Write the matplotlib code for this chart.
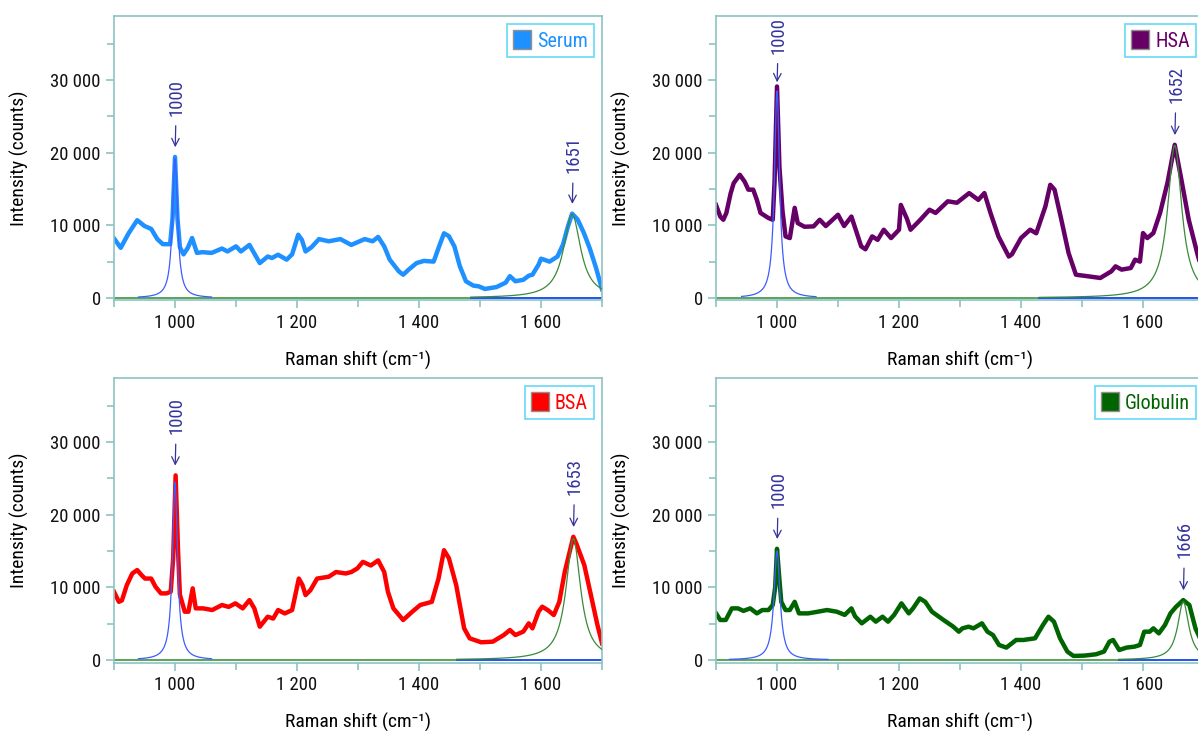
import numpy as np
import matplotlib
matplotlib.use("Agg")
import matplotlib.pyplot as plt
from matplotlib import font_manager
from matplotlib.patches import Patch
from matplotlib.ticker import FuncFormatter, MultipleLocator

names = {f.name for f in font_manager.fontManager.ttflist}
narrow = [n for n in ('Liberation Sans Narrow', 'Arial Narrow', 'Roboto Condensed',
                      'Archivo Narrow', 'Liberation Sans') if n in names]
plt.rcParams['font.family'] = [narrow[0], 'DejaVu Sans']

# measured spectra (Raman shift in cm-1, intensity in counts)
serum_x = [900, 911, 924, 938, 950, 961, 971, 980, 992, 996, 1000, 1004, 1008, 1014, 1021,
           1028, 1036, 1045, 1060, 1077, 1086, 1100, 1108, 1122, 1139, 1152, 1159, 1169,
           1183, 1192, 1202, 1208, 1214, 1224, 1236, 1252, 1271, 1289, 1311, 1324, 1333,
           1343, 1352, 1367, 1374, 1383, 1396, 1408, 1424, 1433, 1441, 1449, 1458, 1467,
           1477, 1489, 1498, 1508, 1527, 1542, 1549, 1558, 1571, 1580, 1586, 1596, 1600,
           1605, 1614, 1627, 1636, 1644, 1651, 1660, 1670, 1680, 1690, 1700]
serum_y = [8200, 6900, 8900, 10700, 9900, 9500, 8100, 7400, 7400, 11000, 19400, 11000, 7000,
           6000, 6900, 8250, 6200, 6300, 6200, 6800, 6400, 7100, 6400, 7300, 4800, 5700,
           5500, 5950, 5270, 6000, 8700, 8000, 6400, 7000, 8100, 7800, 8100, 7300, 8100,
           7800, 8400, 7100, 5270, 3660, 3200, 3900, 4800, 5100, 5000, 7100, 8900, 8500,
           7100, 4350, 2290, 1700, 1600, 1240, 1500, 2100, 3000, 2300, 2500, 3070, 3200,
           4580, 5400, 5270, 5000, 5700, 7330, 9800, 11600, 10800, 9000, 6800, 4200, 1200]

hsa_x = [900, 907, 912, 917, 924, 929, 939, 947, 953, 961, 967, 973, 986, 993, 996, 1000,
         1004, 1009, 1014, 1021, 1029, 1034, 1045, 1060, 1070, 1080, 1100, 1110, 1122,
         1138, 1145, 1156, 1165, 1175, 1187, 1200, 1203, 1213, 1219, 1235, 1250, 1260,
         1280, 1295, 1315, 1330, 1340, 1350, 1363, 1380, 1385, 1400, 1415, 1425, 1440,
         1448, 1455, 1465, 1478, 1490, 1510, 1530, 1548, 1555, 1565, 1580, 1587, 1595,
         1600, 1607, 1617, 1628, 1640, 1652, 1662, 1675, 1690, 1700]
hsa_y = [12800, 11200, 10760, 11700, 14400, 15800, 16950, 16000, 14900, 14900, 13500,
         11700, 11000, 10760, 16000, 29100, 18000, 12000, 8470, 8240, 12400, 10300, 9800,
         9850, 10760, 9900, 11450, 9900, 11200, 7100, 6700, 8470, 8000, 9390, 8240, 9390,
         12800, 10900, 9390, 10760, 12140, 11700, 13300, 13100, 14430, 13500, 14430, 11700,
         8470, 5700, 6000, 8240, 9390, 8900, 12600, 15570, 14900, 11200, 6180, 3200, 2980,
         2750, 3660, 4350, 3900, 4120, 5270, 5000, 8930, 8240, 8930, 11700, 15800, 21070,
         16700, 10760, 5800, 3000]

bsa_x = [900, 908, 913, 921, 930, 938, 946, 951, 961, 968, 977, 986, 993, 997, 1001, 1005,
         1008, 1016, 1022, 1029, 1034, 1046, 1061, 1077, 1088, 1099, 1111, 1122, 1130,
         1139, 1152, 1161, 1169, 1180, 1192, 1203, 1209, 1214, 1222, 1233, 1252, 1264,
         1280, 1289, 1299, 1308, 1321, 1333, 1343, 1349, 1358, 1374, 1389, 1402, 1421,
         1432, 1441, 1449, 1461, 1468, 1474, 1483, 1502, 1521, 1539, 1549, 1558, 1571,
         1580, 1586, 1596, 1602, 1611, 1621, 1630, 1639, 1653, 1658, 1671, 1683, 1692, 1700]
bsa_y = [9390, 8000, 8200, 10300, 11900, 12370, 11600, 11200, 11200, 10080, 9160, 9160,
         9390, 14000, 25400, 15000, 9000, 6640, 6640, 9850, 7100, 7100, 6870, 7560, 7300,
         7790, 7100, 8240, 7100, 4580, 5950, 5700, 6870, 6400, 6870, 11200, 10300, 8930,
         9600, 11200, 11450, 12100, 11900, 12100, 12600, 13500, 13000, 13700, 12100, 9390,
         7100, 5500, 6640, 7560, 8000, 11200, 15100, 14000, 10300, 7100, 4350, 2980, 2430,
         2520, 3430, 4120, 3430, 3900, 5040, 4350, 6640, 7330, 6870, 6180, 8000, 12140,
         16950, 16000, 13050, 8470, 5000, 2300]

glob_x = [900, 907, 916, 926, 936, 945, 956, 967, 976, 986, 993, 997, 1000, 1004, 1007,
          1014, 1021, 1029, 1036, 1051, 1067, 1082, 1098, 1111, 1122, 1128, 1139, 1153,
          1162, 1173, 1182, 1192, 1204, 1216, 1223, 1234, 1243, 1254, 1273, 1289, 1298,
          1304, 1314, 1322, 1336, 1345, 1354, 1364, 1376, 1392, 1404, 1423, 1436, 1445,
          1454, 1464, 1476, 1486, 1504, 1523, 1536, 1545, 1551, 1561, 1573, 1586, 1595,
          1602, 1611, 1617, 1626, 1636, 1645, 1654, 1666, 1676, 1686, 1700]
glob_y = [6410, 5500, 5500, 7100, 7100, 6750, 7100, 6410, 6870, 6870, 7560, 10000, 15300,
          11000, 8000, 6870, 6870, 8000, 6410, 6410, 6640, 6870, 6640, 6200, 7100, 6000,
          5040, 5950, 5270, 5950, 5270, 6200, 7790, 6410, 7100, 8470, 8000, 6640, 5500,
          4580, 3890, 4350, 4580, 4350, 5040, 3890, 3430, 2060, 1700, 2750, 2750, 2980,
          4810, 5950, 5270, 2980, 1150, 550, 600, 780, 1150, 2520, 2750, 1370, 1700, 1830,
          2060, 3890, 3890, 4350, 3660, 4810, 6410, 7300, 8240, 7560, 4350, 1800]

sample_names = ['Serum', 'HSA', 'BSA', 'Globulin']
sample_colors = ['#1e90ff', '#660066', '#ff0000', '#006400']
spectra = [(serum_x, serum_y), (hsa_x, hsa_y), (bsa_x, bsa_y), (glob_x, glob_y)]

# fitted Lorentzian bands: phenylalanine ring (~1000) and amide I
phe_center = [1000, 1000, 1000, 1000]
phe_height = [19200, 28500, 24500, 15000]
phe_hwhm = [5, 5, 5, 6]
phe_span = [(940, 1060), (942, 1064), (940, 1060), (922, 1084)]
amide_center = [1651, 1652, 1653, 1666]
amide_height = [11500, 21000, 16700, 8000]
amide_hwhm = [17, 14, 14.5, 11]
amide_start = [1485, 1430, 1462, 1560]

W, H = 1198, 731
fig = plt.figure(figsize=(W / 100, H / 100), dpi=100)
lefts = [114, 716, 114, 716]
tops = [16, 16, 378, 378]
ax_w, ax_h = 488, 284.5

# how far the peak labels sit above the peak (points)
phe_lift = [29.5, 23.5, 29.5, 29]
amide_lift = [29, 30, 30, 30]

spine_c = '#8cc4c4'
note_c = '#34349c'


def thousands(v, pos):
    return f'{int(v):,}'.replace(',', ' ')


def lorentz(x, c, h, g):
    return h / (1 + ((x - c) / g) ** 2)


for i in range(4):
    ax = fig.add_axes([lefts[i] / W, 1 - (tops[i] + ax_h) / H, ax_w / W, ax_h / H])
    ax.set_xlim(900, 1700)
    ax.set_ylim(-350, 38800)

    ax.axhline(0, color='#2e8b2e', lw=1.1, zorder=1)
    xb = np.linspace(phe_span[i][0], phe_span[i][1], 400)
    ax.plot(xb, lorentz(xb, phe_center[i], phe_height[i], phe_hwhm[i]),
            color='#3d5cff', lw=0.9, zorder=3)
    xa = np.linspace(amide_start[i], 1700, 400)
    ax.plot([amide_start[i], 1700], [0, 0], color='#2050ff', lw=1.3, zorder=2)
    ax.plot(xa, lorentz(xa, amide_center[i], amide_height[i], amide_hwhm[i]),
            color='#3a8a3a', lw=0.9, zorder=3)

    sx, sy = spectra[i]
    ax.plot(sx, sy, color=sample_colors[i], lw=3.2, zorder=2,
            solid_joinstyle='round')

    # peak labels
    for c, lift in ((1000, phe_lift[i]), (amide_center[i], amide_lift[i])):
        peak = max(sy[j] for j in range(len(sx)) if abs(sx[j] - c) < 6)
        ax.annotate(str(c), xy=(c, peak), xytext=(1, lift), textcoords='offset points',
                    rotation=90, ha='center', va='bottom', fontsize=13.5, color=note_c,
                    arrowprops=dict(arrowstyle='->', color=note_c, lw=0.9,
                                    shrinkA=5, shrinkB=7 if lift > 25 else 3))

    for s in ax.spines.values():
        s.set_color(spine_c)
        s.set_linewidth(1.2)
    ax.xaxis.set_major_locator(MultipleLocator(200))
    ax.xaxis.set_minor_locator(MultipleLocator(100))
    ax.yaxis.set_major_locator(MultipleLocator(10000))
    ax.yaxis.set_minor_locator(MultipleLocator(5000))
    ax.xaxis.set_major_formatter(FuncFormatter(thousands))
    ax.yaxis.set_major_formatter(FuncFormatter(thousands))
    ax.set_yticks([0, 10000, 20000, 30000])
    ax.tick_params(which='both', color=spine_c, labelsize=13.5, labelcolor='#111111',
                   width=1.2)
    ax.tick_params(which='major', length=6)
    ax.tick_params(which='minor', length=5)
    ax.set_xlabel('Raman shift (cm⁻¹)', fontsize=14, labelpad=14)
    ax.set_ylabel('Intensity (counts)', fontsize=14, labelpad=15)

    leg = ax.legend(handles=[Patch(facecolor=sample_colors[i], edgecolor='#909090')],
                    labels=[sample_names[i]], loc='upper right', fontsize=14.5,
                    handlelength=0.9, handleheight=1.1, handletextpad=0.3,
                    borderpad=0.3, borderaxespad=0.4, fancybox=False, framealpha=1)
    leg.get_frame().set_edgecolor('#66d9f5')
    leg.get_frame().set_linewidth(1.2)
    for t in leg.get_texts():
        t.set_color(sample_colors[i])

fig.savefig('out.png', dpi=100)
